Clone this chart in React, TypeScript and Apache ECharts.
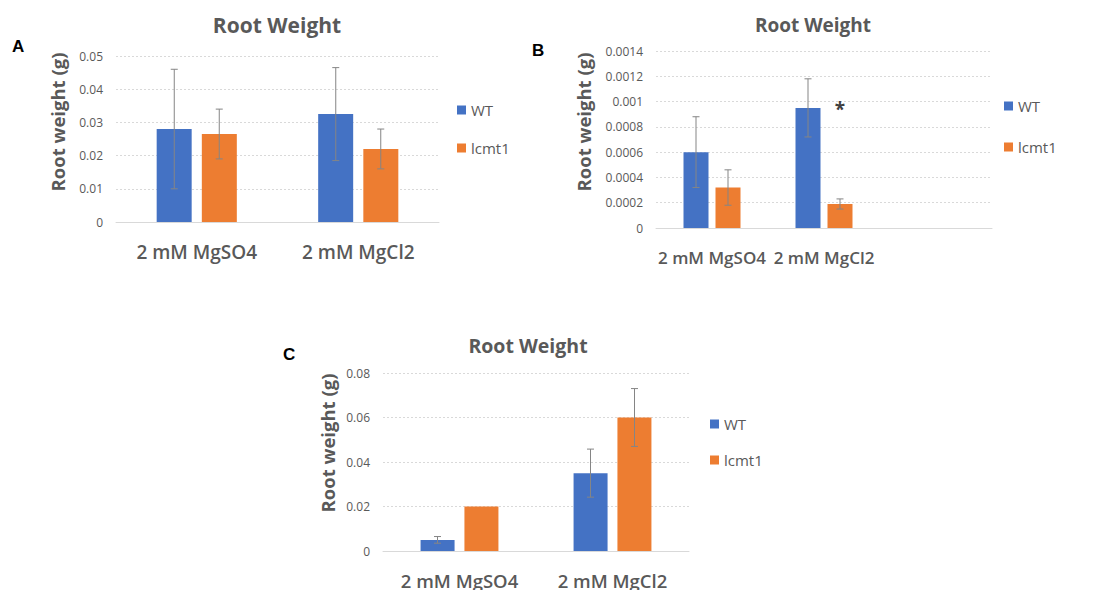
import React, { useEffect, useRef } from "react";
import * as echarts from "echarts";

// ---- data ----
const categoriesA = ["2 mM MgSO4", "2 mM MgCl2"];
const categoriesB = ["2 mM MgSO4", "2 mM MgCl2", ""];
const categoriesC = ["2 mM MgSO4", "2 mM MgCl2"];
const seriesNames = ["WT", "lcmt1"];

const wtA = [0.028, 0.0325];
const wtAErr = [0.018, 0.014];
const lcmtA = [0.0265, 0.022];
const lcmtAErr = [0.0075, 0.006];

const wtB = [0.0006, 0.00095];
const wtBErr = [0.00028, 0.00023];
const lcmtB = [0.00032, 0.00019];
const lcmtBErr = [0.00014, 0.00004];

const wtC = [0.005, 0.035];
const wtCErr = [0.0015, 0.0108];
const lcmtC = [0.02, 0.06];
const lcmtCErr = [null, 0.013];

const yMaxA = 0.05, yStepA = 0.01;
const yMaxB = 0.0014, yStepB = 0.0002;
const yMaxC = 0.08, yStepC = 0.02;

// significance marks in panel B
const sigMarksB = [{ cat: 1, series: 1, value: 0.00094, text: "*" }];

const titleText = "Root Weight";
const yName = "Root weight (g)";

// ---- styles ----
const BLUE = "#4472C4";
const ORANGE = "#ED7D31";
const GRAY = "#595959";
const ERR = "#858585";
const FONT = "'Open Sans', 'Noto Sans', sans-serif";

const panels = [
  {
    letter: "A", letterPos: [12, 38],
    cats: categoriesA, wt: wtA, wtErr: wtAErr, lc: lcmtA, lcErr: lcmtAErr,
    max: yMaxA, step: yStepA,
    grid: { left: 116, top: 56, width: 323, height: 166 },
    barWidth: 35, gapPx: 10, catFont: 19, catMargin: 20,
    yNamePos: [57, 122],
    title: [272, 9], titleSize: 21, legend: [452, 97], legendGap: 22,
  },
  {
    letter: "B", letterPos: [532, 42],
    cats: categoriesB, wt: wtB, wtErr: wtBErr, lc: lcmtB, lcErr: lcmtBErr,
    max: yMaxB, step: yStepB,
    grid: { left: 656, top: 51, width: 336, height: 177 },
    barWidth: 25, gapPx: 7, catFont: 17, catMargin: 21,
    yNamePos: [583, 122],
    title: [808, 10], titleSize: 19, legend: [999, 93], legendGap: 25,
  },
  {
    letter: "C", letterPos: [283, 346],
    cats: categoriesC, wt: wtC, wtErr: wtCErr, lc: lcmtC, lcErr: lcmtCErr,
    max: yMaxC, step: yStepC,
    grid: { left: 383, top: 373, width: 306, height: 178 },
    barWidth: 34, gapPx: 10, catFont: 18.5, catMargin: 20,
    yNamePos: [327, 443],
    title: [523, 330], titleSize: 19.5, legend: [705, 411], legendGap: 20,
  },
];

function errorRender(offset: number) {
  return (params: any, api: any) => {
    const err = api.value(2);
    if (err === null || err === undefined || isNaN(err) || err === 0) return null;
    const cat = api.value(0);
    const v = api.value(1);
    const top = api.coord([cat, v + err]);
    const bot = api.coord([cat, v - err]);
    const x = top[0] + offset;
    const style = { stroke: ERR, lineWidth: 1 };
    return {
      type: "group",
      children: [
        { type: "line", shape: { x1: x, y1: top[1], x2: x, y2: bot[1] }, style },
        { type: "line", shape: { x1: x - 3.5, y1: top[1], x2: x + 3.5, y2: top[1] }, style },
        { type: "line", shape: { x1: x - 3.5, y1: bot[1], x2: x + 3.5, y2: bot[1] }, style },
      ],
    };
  };
}

export default function App() {
  const ref = useRef<HTMLDivElement>(null);
  useEffect(() => {
    if (!ref.current) return;
    const chart = echarts.init(ref.current, null, { renderer: "svg" });

    const grids: any[] = [];
    const xAxes: any[] = [];
    const yAxes: any[] = [];
    const series: any[] = [];
    const titles: any[] = [];
    const legends: any[] = [];
    const graphics: any[] = [];

    panels.forEach((p, i) => {
      grids.push({ ...p.grid, containLabel: false });
      xAxes.push({
        type: "category",
        gridIndex: i,
        data: p.cats,
        axisTick: { show: false },
        axisLine: { show: true, lineStyle: { color: "#d9d9d9", width: 1 } },
        axisLabel: {
          color: GRAY, fontSize: p.catFont, fontWeight: 600, fontFamily: FONT,
          margin: p.catMargin, interval: 0,
        },
      });
      yAxes.push({
        type: "value",
        gridIndex: i,
        min: 0,
        max: p.max,
        interval: p.step,
        axisLine: { show: false },
        axisTick: { show: false },
        axisLabel: { color: GRAY, fontSize: 12, fontFamily: FONT, margin: 13 },
        splitLine: { lineStyle: { color: "#d9d9d9", type: [2, 2], width: 1 } },
      });
      const offset = (p.barWidth + p.gapPx) / 2;
      const gapPct = Math.round((p.gapPx / p.barWidth) * 100) + "%";
      series.push({
        type: "bar", name: seriesNames[0], xAxisIndex: i, yAxisIndex: i,
        data: p.wt, barWidth: p.barWidth, barGap: gapPct,
        itemStyle: { color: BLUE }, z: 2,
      });
      series.push({
        type: "bar", name: seriesNames[1], xAxisIndex: i, yAxisIndex: i,
        data: p.lc, barWidth: p.barWidth, barGap: gapPct,
        itemStyle: { color: ORANGE }, z: 2,
      });
      series.push({
        type: "custom", name: "errWT" + i, xAxisIndex: i, yAxisIndex: i,
        data: p.wt.map((v, k) => [k, v, p.wtErr[k]]),
        renderItem: errorRender(-offset), z: 5, silent: true,
        encode: { x: 0, y: 1 },
      });
      series.push({
        type: "custom", name: "errLC" + i, xAxisIndex: i, yAxisIndex: i,
        data: p.lc.map((v, k) => [k, v, p.lcErr[k]]),
        renderItem: errorRender(offset), z: 5, silent: true,
        encode: { x: 0, y: 1 },
      });
      if (i === 1) {
        series.push({
          type: "custom", name: "sig", xAxisIndex: i, yAxisIndex: i,
          data: sigMarksB.map((m) => [m.cat, m.value, m.series]),
          encode: { x: 0, y: 1 },
          renderItem: (params: any, api: any) => {
            const c = api.coord([api.value(0), api.value(1)]);
            const off = api.value(2) === 1 ? offset : -offset;
            return {
              type: "text",
              x: c[0] + off,
              y: c[1],
              style: {
                text: sigMarksB[params.dataIndex].text,
                fill: "#404040",
                font: "bold 19px " + FONT,
                align: "center",
                verticalAlign: "middle",
              },
            };
          },
          z: 6, silent: true,
        });
      }
      titles.push({
        text: titleText,
        left: p.title[0],
        top: p.title[1],
        textAlign: "center",
        textStyle: { color: GRAY, fontSize: p.titleSize, fontWeight: "bold", fontFamily: FONT },
      });
      legends.push({
        data: seriesNames,
        orient: "vertical",
        left: p.legend[0],
        top: p.legend[1],
        icon: "rect",
        itemWidth: 9,
        itemHeight: 9,
        itemGap: p.legendGap,
        selectedMode: false,
        textStyle: { color: GRAY, fontSize: 15, fontFamily: FONT, lineHeight: 16 },
      });
      graphics.push({
        type: "text",
        x: p.yNamePos[0],
        y: p.yNamePos[1],
        rotation: Math.PI / 2,
        style: {
          text: yName, fill: GRAY, font: "bold 18.5px " + FONT,
          align: "center", verticalAlign: "middle",
        },
      });
      graphics.push({
        type: "text",
        left: p.letterPos[0],
        top: p.letterPos[1],
        style: { text: p.letter, fill: "#000", font: "bold 17px 'Liberation Sans', Arial, sans-serif" },
      });
    });

    chart.setOption({
      animation: false,
      backgroundColor: "#ffffff",
      title: titles,
      legend: legends,
      grid: grids,
      xAxis: xAxes,
      yAxis: yAxes,
      series,
      graphic: graphics,
    });
    return () => chart.dispose();
  }, []);
  return (
    <div
      ref={ref}
      style={{ position: "fixed", left: 0, top: 0, width: 1111, height: 590, background: "#fff" }}
    />
  );
}
